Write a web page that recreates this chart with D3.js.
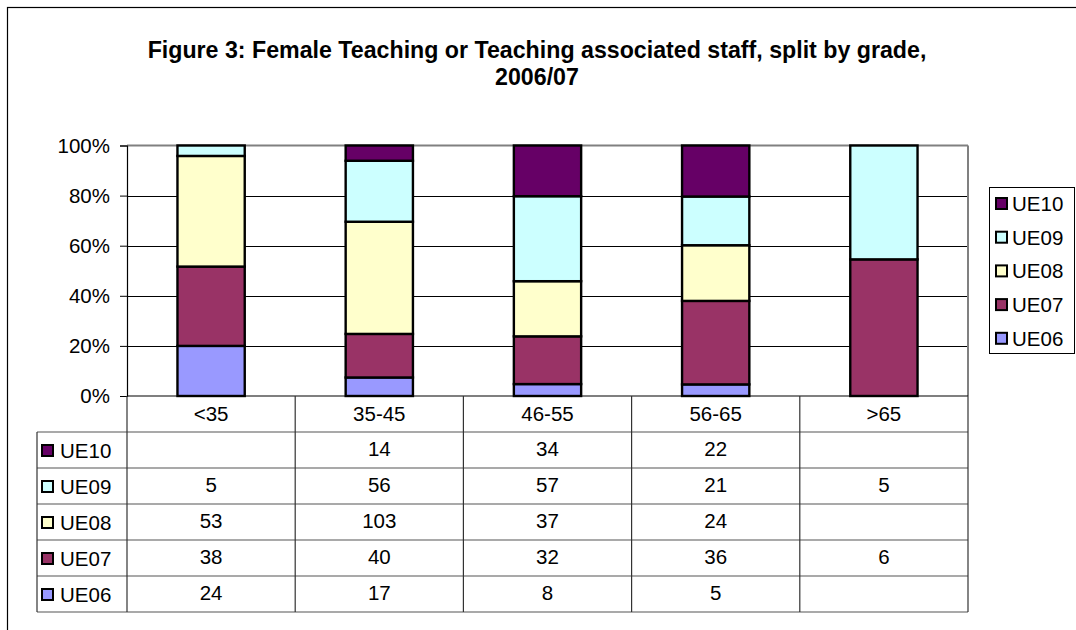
<!DOCTYPE html>
<html>
<head>
<meta charset="utf-8">
<script src="https://cdn.jsdelivr.net/npm/d3@7"></script>
<style>
  body { margin: 0; background: #fff; }
  svg { font-family: "Liberation Sans", Arial, sans-serif; }
</style>
</head>
<body>
<svg width="1076" height="630"></svg>
<script>
// data
const categories = ["<35", "35-45", "46-55", "56-65", ">65"];
const grades = ["UE06", "UE07", "UE08", "UE09", "UE10"];
const ue06 = [24, 17, 8, 5, null];
const ue07 = [38, 40, 32, 36, 6];
const ue08 = [53, 103, 37, 24, null];
const ue09 = [5, 56, 57, 21, 5];
const ue10 = [null, 14, 34, 22, null];
const yTickValues = [0, 0.2, 0.4, 0.6, 0.8, 1];

const seriesByGrade = { UE06: ue06, UE07: ue07, UE08: ue08, UE09: ue09, UE10: ue10 };
const colorByGrade = { UE06: "#9999FF", UE07: "#993366", UE08: "#FFFFCC", UE09: "#CCFFFF", UE10: "#660066" };

const svg = d3.select("svg");

// layout
const plotLeft = 127, plotRight = 968, plotTop = 145.5, plotBottom = 396;
const rowH = 36;
const tableLeft = 37;
const fontSize = 20.5;

// outer frame
svg.append("rect").attr("x", 7.5).attr("y", 7.5).attr("width", 1200).attr("height", 800)
    .attr("fill", "white").attr("stroke", "#000").attr("stroke-width", 1.2);

// title
svg.append("text").attr("x", 537).attr("y", 58).attr("text-anchor", "middle")
    .attr("font-size", "23.2px").attr("font-weight", "bold")
    .text("Figure 3: Female Teaching or Teaching associated staff, split by grade,");
svg.append("text").attr("x", 537).attr("y", 85).attr("text-anchor", "middle")
    .attr("font-size", "23.2px").attr("font-weight", "bold")
    .text("2006/07");

// scales
const x = d3.scaleBand().domain(categories).range([plotLeft, plotRight]).paddingInner(0.6).paddingOuter(0.3);
const xCol = d3.scaleBand().domain(categories).range([plotLeft, plotRight]);
const y = d3.scaleLinear().domain([0, 1]).range([plotBottom, plotTop]);

// stacked percent data
const rows = categories.map((c, i) => {
    const r = { cat: c };
    grades.forEach(g => r[g] = seriesByGrade[g][i] || 0);
    return r;
});
const stacked = d3.stack().keys(grades).offset(d3.stackOffsetExpand)(rows);

// gridlines
const grid = svg.append("g");
grid.selectAll("line").data(yTickValues.filter(v => v > 0 && v < 1)).enter().append("line")
    .attr("x1", plotLeft).attr("x2", plotRight)
    .attr("y1", d => Math.round(y(d)) + 0.5).attr("y2", d => Math.round(y(d)) + 0.5)
    .attr("stroke", "#000").attr("stroke-width", 1);
// plot border top/right in grey
svg.append("line").attr("x1", plotLeft).attr("x2", plotRight).attr("y1", plotTop).attr("y2", plotTop)
    .attr("stroke", "#808080").attr("stroke-width", 2);
svg.append("line").attr("x1", plotRight).attr("x2", plotRight).attr("y1", plotTop).attr("y2", plotBottom)
    .attr("stroke", "#808080").attr("stroke-width", 2);

// bars
const layers = svg.append("g").selectAll("g").data(stacked).enter().append("g")
    .attr("fill", d => colorByGrade[d.key]);
layers.selectAll("rect").data(d => d.filter(s => s[1] - s[0] > 0)).enter().append("rect")
    .attr("x", d => x(d.data.cat))
    .attr("y", d => y(d[1]))
    .attr("width", x.bandwidth())
    .attr("height", d => y(d[0]) - y(d[1]))
    .attr("stroke", "#000").attr("stroke-width", 2.4);

// y axis
const yAxis = svg.append("g").attr("transform", `translate(${plotLeft},0)`)
    .call(d3.axisLeft(y).tickValues(yTickValues).tickFormat(d3.format(".0%")).tickSize(7).tickPadding(10));
yAxis.select(".domain").attr("stroke", "#000").attr("stroke-width", 1.2);
yAxis.selectAll("text").attr("font-size", fontSize + "px").attr("font-family", "Liberation Sans, Arial").attr("fill", "#000");
yAxis.selectAll("line").attr("stroke", "#000");

// data table
const table = svg.append("g");
const tableRows = grades.slice().reverse();
const headTop = plotBottom;
const bodyTop = headTop + rowH;
const tableBottom = bodyTop + rowH * tableRows.length;

// header row labels
table.selectAll(".head").data(categories).enter().append("text")
    .attr("x", d => xCol(d) + xCol.bandwidth() / 2)
    .attr("y", headTop + rowH / 2 + 7)
    .attr("text-anchor", "middle").attr("font-size", fontSize + "px")
    .text(d => d);

// horizontal lines
tableRows.forEach((g, i) => {
    const yy = bodyTop + i * rowH;
    table.append("line").attr("x1", tableLeft).attr("x2", plotRight).attr("y1", yy).attr("y2", yy)
        .attr("stroke", "#555").attr("stroke-width", 1.2);
});
table.append("line").attr("x1", tableLeft).attr("x2", plotRight).attr("y1", tableBottom).attr("y2", tableBottom)
    .attr("stroke", "#555").attr("stroke-width", 1.2);
table.append("line").attr("x1", plotLeft).attr("x2", plotRight).attr("y1", headTop).attr("y2", headTop)
    .attr("stroke", "#000").attr("stroke-width", 1.2);

// vertical lines
categories.forEach(c => {
    table.append("line").attr("x1", xCol(c)).attr("x2", xCol(c)).attr("y1", headTop).attr("y2", tableBottom)
        .attr("stroke", "#333").attr("stroke-width", 1.2);
});
table.append("line").attr("x1", plotRight).attr("x2", plotRight).attr("y1", headTop).attr("y2", tableBottom)
    .attr("stroke", "#333").attr("stroke-width", 1.2);
table.append("line").attr("x1", tableLeft).attr("x2", tableLeft).attr("y1", bodyTop).attr("y2", tableBottom)
    .attr("stroke", "#333").attr("stroke-width", 1.2);

// row labels and values
tableRows.forEach((g, i) => {
    const cy = bodyTop + i * rowH + rowH / 2;
    table.append("rect").attr("x", 42).attr("y", cy - 5).attr("width", 11).attr("height", 11)
        .attr("fill", colorByGrade[g]).attr("stroke", "#000").attr("stroke-width", 2);
    table.append("text").attr("x", 60).attr("y", cy + 8).attr("font-size", fontSize + "px").text(g);
    seriesByGrade[g].forEach((v, j) => {
        if (v == null) return;
        table.append("text")
            .attr("x", xCol(categories[j]) + xCol.bandwidth() / 2)
            .attr("y", cy + 6)
            .attr("text-anchor", "middle").attr("font-size", fontSize + "px")
            .text(v);
    });
});

// legend
const legend = svg.append("g");
legend.append("rect").attr("x", 989.5).attr("y", 187.5).attr("width", 85).attr("height", 166)
    .attr("fill", "white").attr("stroke", "#000").attr("stroke-width", 1);
tableRows.forEach((g, i) => {
    const cy = 203 + i * 33.7;
    legend.append("rect").attr("x", 996).attr("y", cy - 5).attr("width", 11).attr("height", 11)
        .attr("fill", colorByGrade[g]).attr("stroke", "#000").attr("stroke-width", 2);
    legend.append("text").attr("x", 1012).attr("y", cy + 8).attr("font-size", fontSize + "px").text(g);
});
</script>
</body>
</html>
